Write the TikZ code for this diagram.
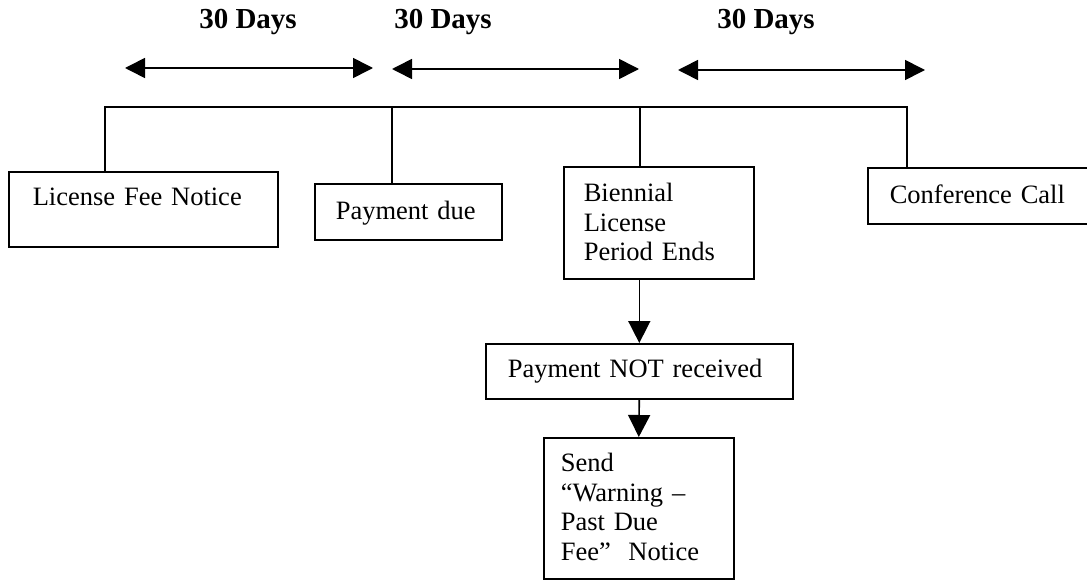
\documentclass[tikz,border=0pt]{standalone}
\usepackage{fontspec}
\setmainfont{Liberation Serif}
\usepackage{tikz}
\usetikzlibrary{arrows.meta}

\tikzset{
  stage/.style={draw, line width=1.6pt, anchor=north west, align=left, inner ysep=0pt},
  span/.style={<->, line width=1.6pt},
  rail/.style={line width=1.6pt},
  days/.style={font=\fontsize{29}{32}\selectfont\bfseries}
}

\begin{document}
\begin{tikzpicture}[x=1pt,y=-1pt,>={Triangle[length=20pt,width=20pt]},
    font=\fontsize{26.5}{29.5}\selectfont]
  \useasboundingbox (0,0) rectangle (1087,586);

  % 30 day spans
  \node[days] (d1) at (248,22) {30 Days};
  \node[days] (d2) at (443,22) {30 Days};
  \node[days] (d3) at (766,22) {30 Days};
  \coordinate (a1) at (125,68); \coordinate (b1) at (373,68);
  \coordinate (a2) at (392,69); \coordinate (b2) at (639,69);
  \coordinate (a3) at (678,70); \coordinate (b3) at (925,70);
  \draw[span] (a1) -- (b1);
  \draw[span] (a2) -- (b2);
  \draw[span] (a3) -- (b3);

  % stages
  \node[stage, inner xsep=24pt, text width=221pt, text height=34pt, text depth=41pt]
    (lic) at (8,171) {License Fee Notice};
  \node[stage, inner xsep=21pt, text width=145pt, text height=36pt, text depth=20pt]
    (pay) at (314,183) {Payment due};
  \node[stage, inner xsep=20pt, text width=150pt, text height=35pt, text depth=77pt]
    (pend) at (563,166) {Biennial\\License\\Period Ends};
  \node[stage, inner xsep=22pt, text width=200pt, text height=36pt, text depth=20pt]
    (conf) at (867,167) {Conference Call};
  \node[stage, inner xsep=22pt, text width=263pt, text height=34pt, text depth=21pt]
    (notrecv) at (485,343) {Payment NOT received};
  \node[stage, inner xsep=17pt, text width=156pt, text height=34pt, text depth=107pt]
    (warn) at (543,437) {Send\\``Warning --\\Past Due\\Fee''~~Notice};

  % timeline
  \coordinate (t1) at (105,107);
  \coordinate (t2) at (392,107);
  \coordinate (t3) at (640,107);
  \coordinate (t4) at (907,107);
  \draw[rail] (t1 |- lic.north) -- (t1) -- (t4) -- (t4 |- conf.north);
  \draw[rail] (t2) -- (t2 |- pay.north);
  \draw[rail] (t3) -- (t3 |- pend.north);

  \draw[rail,->,>={Triangle[length=22pt,width=22pt]}] (pend.south -| notrecv.north) -- (notrecv.north);
  \draw[rail,->,>={Triangle[length=22pt,width=22pt]}] (notrecv.south) -- (warn.north);
\end{tikzpicture}
\end{document}
